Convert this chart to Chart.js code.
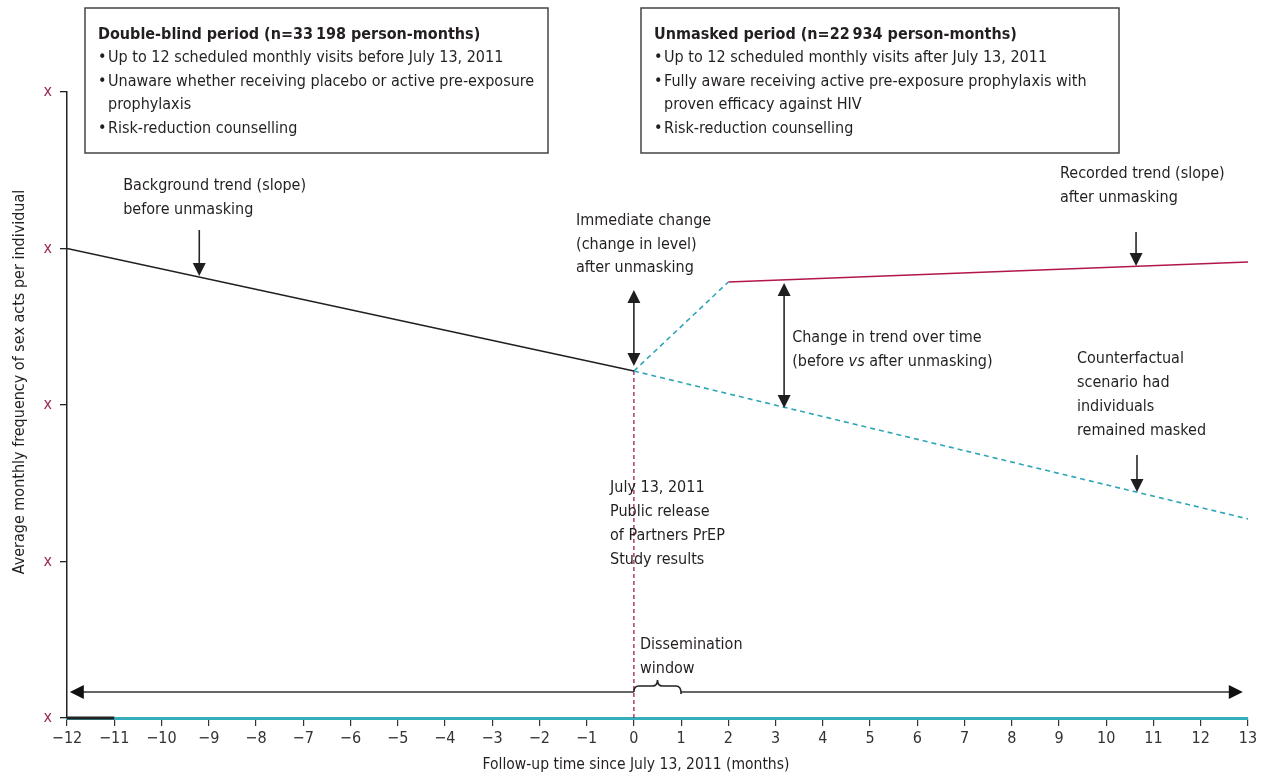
<!DOCTYPE html>
<html><head><meta charset="utf-8">
<script src="https://cdn.jsdelivr.net/npm/chart.js@4.4.0/dist/chart.umd.min.js"></script>
<style>html,body{margin:0;padding:0;background:#fff}#wrap{width:1270px;height:776px}</style>
</head><body><div id="wrap"><canvas id="c" width="1270" height="776"></canvas></div>
<script>
const FONT = "'Liberation Sans Narrow','DejaVu Sans Condensed','Roboto Condensed','Open Sans',sans-serif";
const TXT = '#231f20';

// ---- data ----
const xTickValues = [-12,-11,-10,-9,-8,-7,-6,-5,-4,-3,-2,-1,0,1,2,3,4,5,6,7,8,9,10,11,12,13];
const xTickLabels = ['\u221212','\u221211','\u221210','\u22129','\u22128','\u22127','\u22126','\u22125','\u22124','\u22123','\u22122','\u22121','0','1','2','3','4','5','6','7','8','9','10','11','12','13'];
const yTickValues = [0,1,2,3,4];
const yTickLabels = ['x','x','x','x','x'];
const trendBefore   = [{x:-12,y:3.0},{x:0,y:2.217}];
const levelChange   = [{x:0,y:2.217},{x:2,y:2.786}];
const trendAfter    = [{x:2,y:2.786},{x:13,y:2.914}];
const counterfactual= [{x:0,y:2.217},{x:13,y:1.272}];
const releaseMarker = [{x:0,y:0},{x:0,y:2.217}];
const baselineBlack = [{x:-12,y:0},{x:-11,y:0}];
// annotation arrows: x, from y, to y, heads
const arrowX     = [-9.2, 0, 3.18, 10.63, 10.65];
const arrowFromY = [3.118, 2.735, 2.780, 3.105, 1.680];
const arrowToY   = [2.824, 2.249, 1.981, 2.888, 1.444];
const arrowBoth  = [false, true, true, false, false];
const timelineX  = [-11.94, 12.89];
const timelineY  = 0.166;
const windowX    = [0, 1];

const annot = {
  id:'annot',
  afterDatasetsDraw(chart){
    const {ctx, scales:{x, y}} = chart;
    const X = v => x.getPixelForValue(v), Y = v => y.getPixelForValue(v);
    ctx.save();
    // black first segment of axis
    ctx.strokeStyle = '#222'; ctx.lineWidth = 3;
    ctx.beginPath(); ctx.moveTo(X(baselineBlack[0].x), Y(0)); ctx.lineTo(X(baselineBlack[1].x), Y(0)); ctx.stroke();

    function head(tx, ty, dx, dy, L, W){
      const n = Math.hypot(dx,dy); dx/=n; dy/=n;
      ctx.beginPath();
      ctx.moveTo(tx, ty);
      ctx.lineTo(tx - dx*L - dy*W, ty - dy*L + dx*W);
      ctx.lineTo(tx - dx*L + dy*W, ty - dy*L - dx*W);
      ctx.closePath(); ctx.fill();
    }
    ctx.strokeStyle = '#262626'; ctx.fillStyle = '#1e1e1e'; ctx.lineWidth = 1.6;
    for (let i=0;i<arrowX.length;i++){
      const px = X(arrowX[i]), y1 = Y(arrowFromY[i]), y2 = Y(arrowToY[i]);
      const L = 13, W = 6.5;
      ctx.beginPath();
      ctx.moveTo(px, arrowBoth[i] ? y1 + L : y1); ctx.lineTo(px, y2 - L + 1); ctx.stroke();
      head(px, y2, 0, 1, L, W);
      if (arrowBoth[i]) head(px, y1, 0, -1, L, W);
    }
    // timeline double arrow with brace
    const ty = Y(timelineY);
    const a = X(timelineX[0]), b = X(timelineX[1]);
    const w0 = X(windowX[0]), w1 = X(windowX[1]);
    ctx.strokeStyle = '#333'; ctx.lineWidth = 1.5;
    ctx.beginPath(); ctx.moveTo(a+12, ty); ctx.lineTo(w0, ty); ctx.moveTo(w1, ty); ctx.lineTo(b-12, ty); ctx.stroke();
    ctx.fillStyle = '#111';
    head(a, ty, -1, 0, 14, 7);
    head(b, ty, 1, 0, 14, 7);
    // brace
    const mid = (w0+w1)/2, by = ty - 6, peak = ty - 12;
    ctx.strokeStyle = '#222'; ctx.lineWidth = 1.6;
    ctx.beginPath();
    ctx.moveTo(w0, ty);
    ctx.quadraticCurveTo(w0, by, w0+5, by);
    ctx.lineTo(mid-5, by);
    ctx.quadraticCurveTo(mid, by, mid, peak);
    ctx.quadraticCurveTo(mid, by, mid+5, by);
    ctx.lineTo(w1-5, by);
    ctx.quadraticCurveTo(w1, by, w1, ty+2);
    ctx.stroke();

    // text helpers
    ctx.fillStyle = TXT; ctx.textBaseline = 'middle'; ctx.textAlign = 'left';
    function lines(arr, lx, cy, lh, font){
      ctx.font = font || ('16px ' + FONT);
      arr.forEach((t,i)=>ctx.fillText(t, lx, cy + i*lh));
    }
    const F = '16px ' + FONT;
    lines(['Background trend (slope)','before unmasking'], X(-10.81), Y(3.399), 23.5, F);
    lines(['Immediate change','(change in level)','after unmasking'], X(-1.225), Y(3.176), 23.5, F);
    lines(['Recorded trend (slope)','after unmasking'], X(9.02), Y(3.476), 24, F);
    lines(['Counterfactual','scenario had','individuals','remained masked'], X(9.38), Y(2.294), 24, F);
    lines(['July 13, 2011','Public release','of Partners PrEP','Study results'], X(-0.505), Y(1.470), 24, F);
    lines(['Dissemination','window'], X(0.13), Y(0.466), 24, F);
    // change in trend with italic vs
    ctx.font = F;
    const cx = X(3.35), cy = Y(2.428);
    ctx.fillText('Change in trend over time', cx, cy);
    let p = cx;
    const seg = [['(before ', F], ['vs', 'italic ' + F], [' after unmasking)', F]];
    seg.forEach(([t,f])=>{ ctx.font = f; ctx.fillText(t, p, cy+24); p += ctx.measureText(t).width; });

    // boxes
    function box(l, t, r, bt, title, items){
      ctx.fillStyle = '#fff'; ctx.fillRect(l, t, r-l, bt-t);
      ctx.strokeStyle = '#444'; ctx.lineWidth = 1.5; ctx.strokeRect(l, t, r-l, bt-t);
      ctx.fillStyle = TXT;
      ctx.font = 'bold 16px ' + FONT;
      ctx.fillText(title, l+13, t+27);
      ctx.font = F;
      let yy = t+50;
      items.forEach(it=>{
        it.forEach((ln,j)=>{
          if (j===0) ctx.fillText('\u2022', l+13, yy);
          ctx.fillText(ln, l+23, yy);
          yy += 23.5;
        });
      });
    }
    box(85, 8, 548, 153, 'Double-blind period (n=33\u2009198 person-months)',
      [['Up to 12 scheduled monthly visits before July 13, 2011'],
       ['Unaware whether receiving placebo or active pre-exposure','prophylaxis'],
       ['Risk-reduction counselling']]);
    box(641, 8, 1119, 153, 'Unmasked period (n=22\u2009934 person-months)',
      [['Up to 12 scheduled monthly visits after July 13, 2011'],
       ['Fully aware receiving active pre-exposure prophylaxis with','proven efficacy against HIV'],
       ['Risk-reduction counselling']]);

    // axis titles
    ctx.fillStyle = TXT; ctx.font = '15.5px ' + FONT; ctx.textAlign = 'center';
    ctx.fillText('Follow-up time since July 13, 2011 (months)', 636, 765);
    ctx.font = '16px ' + FONT;
    ctx.translate(20, 382); ctx.rotate(-Math.PI/2);
    ctx.fillText('Average monthly frequency of sex acts per individual', 0, 0);
    ctx.restore();
  }
};

const ds = (data, color, dash, width) => ({data, borderColor: color, borderDash: dash, borderWidth: width, pointRadius: 0, fill: false, tension: 0});

new Chart(document.getElementById('c'), {
  type: 'line',
  data: { datasets: [
    ds(trendBefore, '#1f1f1f', [], 1.6),
    ds(levelChange, '#2ea6b6', [5,4], 1.6),
    ds(trendAfter, '#b3164c', [], 1.6),
    ds(counterfactual, '#2ea6b6', [5,4], 1.6),
    ds(releaseMarker, '#a3214f', [4,3], 1.3)
  ]},
  options: {
    responsive: false, animation: false,
    parsing: true,
    layout: { padding: { top: 92, right: 22, left: 0, bottom: 0 } },
    plugins: { legend: { display: false }, tooltip: { enabled: false } },
    scales: {
      x: {
        type: 'linear', min: -12, max: 13,
        afterBuildTicks: s => { s.ticks = xTickValues.map(v => ({value: v})); },
        afterFit: s => { s.height = 58; },
        ticks: { callback: (v, i) => xTickLabels[i], font: { size: 16, family: FONT }, color: '#333', padding: 3, maxRotation: 0, autoSkip: false },
        grid: { drawOnChartArea: false, drawTicks: true, tickLength: 8, color: '#333', lineWidth: 1.2 },
        border: { color: '#34aeba', width: 3 }
      },
      y: {
        min: 0, max: 4,
        afterBuildTicks: s => { s.ticks = yTickValues.map(v => ({value: v})); },
        afterFit: s => { s.width = 67; },
        ticks: { callback: (v, i) => yTickLabels[i], font: { size: 16, family: FONT }, color: '#9c2a5a', padding: 8 },
        grid: { drawOnChartArea: false, drawTicks: true, tickLength: 7, color: '#222', lineWidth: 1.3 },
        border: { color: '#222', width: 1.5 }
      }
    }
  },
  plugins: [annot]
});
</script></body></html>
